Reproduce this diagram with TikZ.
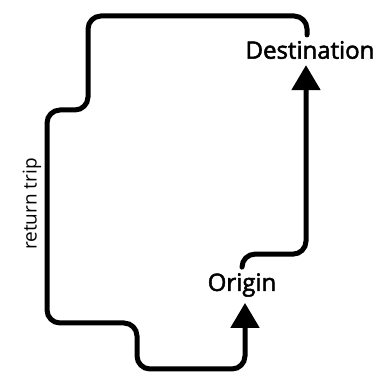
\documentclass[tikz,border=0pt]{standalone}
\usepackage{fontspec}
\setmainfont{Open Sans}
\newfontfamily\placefont{Open Sans}[FakeBold=2.2]
\usepackage{tikz}
\usetikzlibrary{arrows.meta,positioning}

\begin{document}
\begin{tikzpicture}[x=1pt, y=1pt,
  place/.style={inner xsep=2pt, inner ysep=6pt, font=\placefont\fontsize{24}{28}\selectfont},
  trip/.style={line width=5pt, rounded corners=13pt, line cap=round},
  head/.style={-{Triangle[length=25pt, width=28pt]}}
]
  \useasboundingbox (0,0) rectangle (377,378);
  \node[place] (dest) at (310,328) {Destination};
  \node[place] (orig) at (242,93) {Origin};
  \node[rotate=90, font=\fontsize{19}{22}\selectfont] (back) at (32,174) {return trip};
  % way out
  \draw[trip, head] (orig.north) -- ++(0,13) -| ([xshift=-4pt]dest.south);
  % way back
  \draw[trip, head] ([xshift=-3pt]dest.north) |- (88,362) -- (88,268) -- (47,268)
    -- (47,55) -- (137,55) -- (137,9) -| ([xshift=3pt]orig.south);
\end{tikzpicture}
\end{document}
